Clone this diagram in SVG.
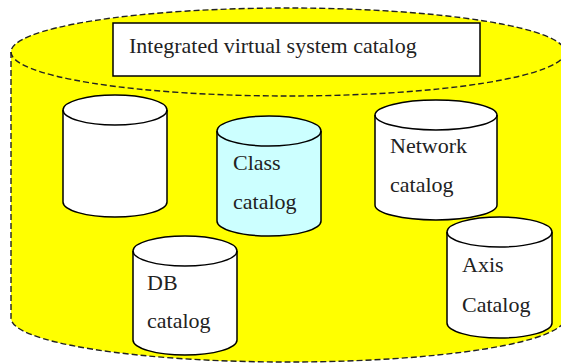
<svg xmlns="http://www.w3.org/2000/svg" width="561" height="363" viewBox="0 0 561 363">
  <style>
    .outer { fill: #ffff00; stroke: none; }
    .dash { fill: none; stroke: #222; stroke-width: 1.4; stroke-dasharray: 6 3; }
    .cyl { fill: #ffffff; stroke: #000; stroke-width: 1.5; }
    .cyl.blue { fill: #ccffff; }
    .rim { fill: none; stroke: #000; stroke-width: 1.5; }
    .box { fill: #ffffff; stroke: #000; stroke-width: 1.5; }
    .lbl { font-family: "Liberation Serif", "DejaVu Serif", "Noto Serif", serif; font-size: 22px; fill: #222; }
  </style>
  <rect width="561" height="363" fill="#ffffff"/>

  <!-- outer container cylinder -->
  <g id="container">
    <path class="outer" d="M11,52 A277,44 0 0 1 565,52 L565,318 A277,44 0 0 1 11,318 Z"/>
    <path class="dash" d="M11,52 L11,318 A277,44 0 0 0 565,318 L565,52"/>
    <ellipse class="dash" cx="288" cy="52" rx="277" ry="44"/>
  </g>

  <g id="title">
    <rect class="box" x="113" y="23" width="367" height="53"/>
    <text class="lbl" x="129" y="53" font-size="22.5">Integrated virtual system catalog</text>
  </g>

  <g id="cyl-blank">
    <path class="cyl" d="M63,110 A52,15 0 0 1 167,110 L167,202 A52,15 0 0 1 63,202 Z"/>
    <path class="rim" d="M63,110 A52,15 0 0 0 167,110"/>
  </g>

  <g id="cyl-class">
    <path class="cyl blue" d="M217,131 A52,15 0 0 1 321,131 L321,221 A52,15 0 0 1 217,221 Z"/>
    <path class="rim" d="M217,131 A52,15 0 0 0 321,131"/>
    <text class="lbl" x="233" y="170">Class</text>
    <text class="lbl" x="233" y="209">catalog</text>
  </g>

  <g id="cyl-db">
    <path class="cyl" d="M133,251 A52,15 0 0 1 237,251 L237,340 A52,15 0 0 1 133,340 Z"/>
    <path class="rim" d="M133,251 A52,15 0 0 0 237,251"/>
    <text class="lbl" x="147" y="290">DB</text>
    <text class="lbl" x="147" y="328">catalog</text>
  </g>

  <g id="cyl-network">
    <path class="cyl" d="M375,115 A61,15 0 0 1 497,115 L497,205 A61,15 0 0 1 375,205 Z"/>
    <path class="rim" d="M375,115 A61,15 0 0 0 497,115"/>
    <text class="lbl" x="390" y="153">Network</text>
    <text class="lbl" x="390" y="192">catalog</text>
  </g>

  <g id="cyl-axis">
    <path class="cyl" d="M447,232 A52.5,15 0 0 1 552,232 L552,323 A52.5,15 0 0 1 447,323 Z"/>
    <path class="rim" d="M447,232 A52.5,15 0 0 0 552,232"/>
    <text class="lbl" x="462" y="272">Axis</text>
    <text class="lbl" x="462" y="312">Catalog</text>
  </g>
</svg>
